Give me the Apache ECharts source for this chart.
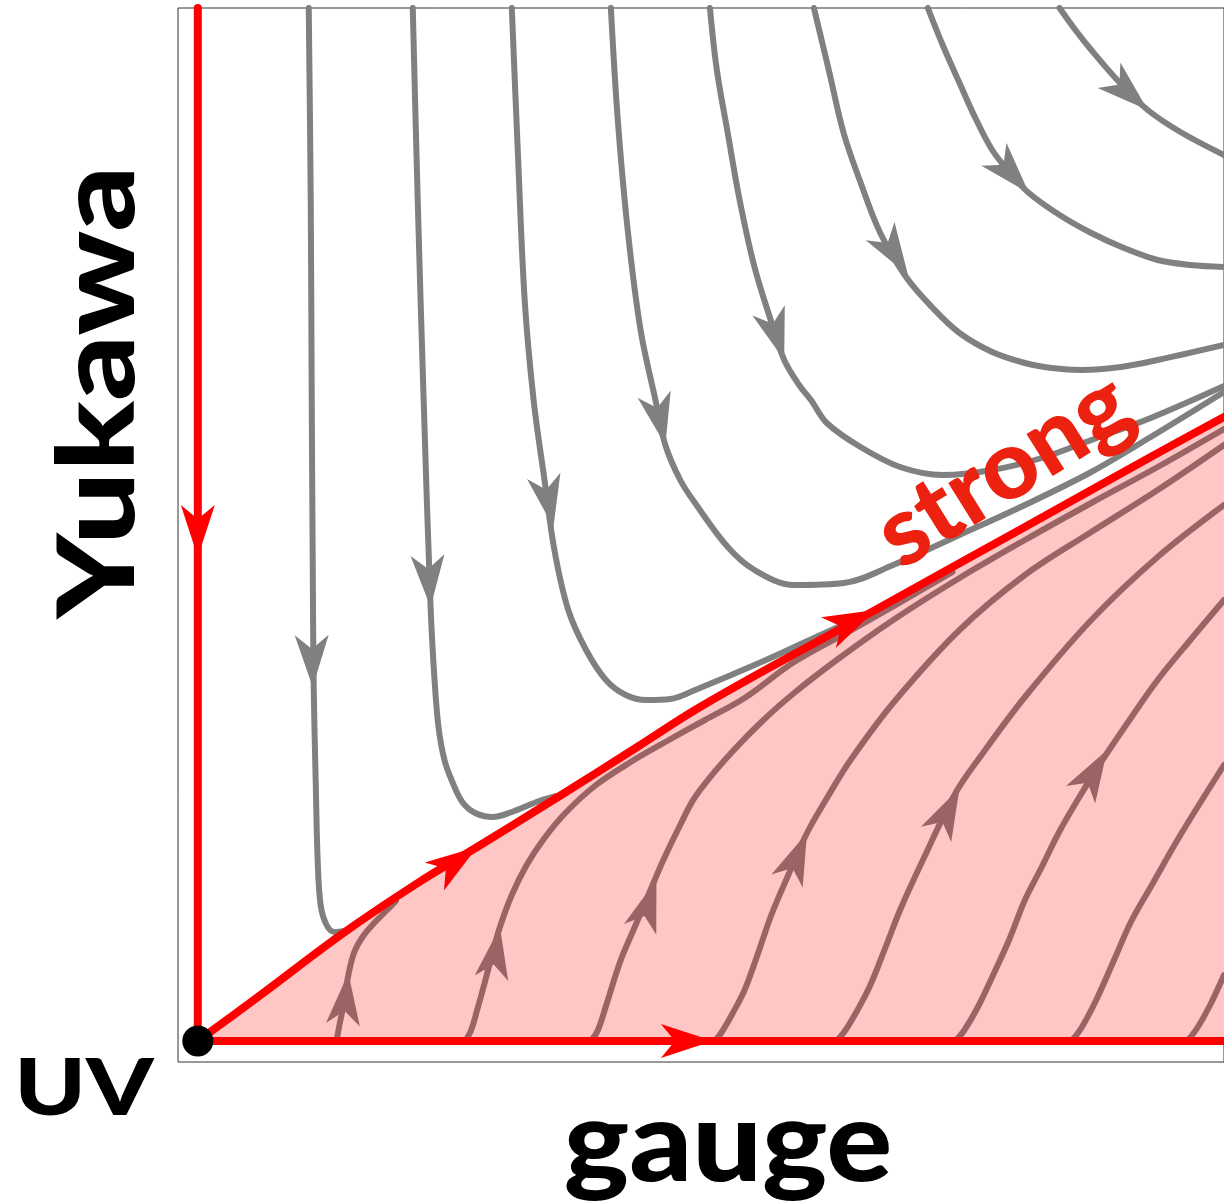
<!DOCTYPE html>
<html>
<head>
<meta charset="utf-8">
<script src="https://cdn.jsdelivr.net/npm/echarts@6/dist/echarts.min.js"></script>
<style>
  html, body { margin: 0; padding: 0; background: #fff; }
  #chart { width: 1224px; height: 1204px; }
</style>
</head>
<body>
<div id="chart"></div>
<script>
// flow diagram, coordinates in plot units [gauge, yukawa]
var separatrix = [[2.0,2.1],[8.2,6.6],[16.7,12.9],[24.2,17.9],[30.2,21.5],[38.2,26.4],[46.2,31.4],[52.2,35.2],[60.2,39.7],[70.4,45.2],[78.2,49.5],[85.5,53.5],[92.2,57.2],[98.2,60.5],[105.6,64.5]];
var yukawaAxisFlow = [[2.0,2.1],[2.0,105.4]];
var gaugeAxisFlow = [[2.0,2.1],[105.6,2.1]];
var fixedPoint = [[2.0,2.1]];

// flows above the separatrix (into it)
var g1 = [[13.2,105.4],[13.4,86.2],[13.5,66.2],[13.6,50.2],[13.7,37.5],[13.9,28.2],[14.1,20.2],[14.4,15.7],[15.0,13.7],[15.8,13.0],[16.8,13.1]];
var g2 = [[23.7,105.4],[24.2,86.2],[24.8,66.2],[25.5,45.5],[25.9,38.2],[26.3,33.5],[26.9,30.2],[27.7,28.0],[28.7,26.0],[30.0,24.9],[31.8,24.5],[33.7,25.0],[36.2,26.0],[38.2,26.6]];
var g3 = [[33.7,105.4],[34.3,91.2],[35.0,76.2],[35.9,66.2],[37.0,58.2],[38.0,51.2],[39.4,45.2],[41.2,41.2],[43.2,38.2],[45.2,36.7],[47.3,36.2],[49.7,36.3],[52.2,37.2],[58.9,40.0],[64.2,42.4],[68.2,44.2]];
var g4 = [[43.7,105.4],[44.4,94.2],[45.4,83.2],[46.7,73.2],[48.2,66.2],[49.2,61.7],[50.7,58.2],[52.2,55.9],[55.5,51.5],[58.2,49.2],[62.2,47.7],[67.2,47.9],[72.2,49.7],[78.9,52.7],[85.5,55.7],[92.2,59.0],[98.2,62.5],[105.6,67.0]];
var g5 = [[53.7,105.4],[54.4,99.2],[55.5,92.9],[56.7,86.2],[58.2,79.5],[60.0,73.7],[61.2,70.2],[62.7,67.7],[63.9,66.2],[65.5,63.9],[68.9,61.5],[72.9,59.5],[77.2,58.7],[82.2,59.2],[87.2,60.4],[92.2,62.2],[98.2,64.4],[105.6,67.6]];
var g6 = [[64.2,105.4],[65.7,99.2],[67.2,92.9],[69.0,87.7],[70.9,82.9],[73.5,78.5],[76.2,75.4],[78.9,72.9],[82.2,71.0],[85.5,69.9],[88.2,69.4],[91.2,69.2],[95.2,69.5],[98.9,70.2],[105.6,71.7]];
var g7 = [[75.7,105.4],[77.2,101.7],[78.9,97.9],[80.5,94.4],[82.2,91.2],[84.0,88.9],[85.9,86.9],[89.0,84.7],[92.2,82.9],[95.5,81.4],[98.9,80.2],[102.2,79.7],[105.6,79.5]];
var g8 = [[89.0,105.4],[90.6,103.2],[92.2,101.2],[95.0,98.0],[97.9,95.2],[101.2,93.0],[105.6,90.7]];

// flows below the separatrix (shaded region)
var b1 = [[16.0,2.1],[16.3,3.7],[16.7,5.7],[17.2,8.7],[17.8,11.0],[18.7,12.6],[19.8,13.9],[21.0,15.1],[22.0,16.1]];
var b2 = [[29.0,2.1],[29.6,3.2],[30.2,5.2],[30.9,7.7],[31.7,10.7],[32.5,13.5],[33.7,16.7],[35.2,19.7],[37.0,22.4],[39.2,25.0],[42.2,27.7],[45.7,30.0],[49.2,32.0],[53.2,34.2],[57.2,36.4],[62.2,40.0],[68.2,43.3],[78.2,49.0]];
var b3 = [[41.7,2.1],[42.4,3.2],[43.3,5.9],[44.7,10.2],[46.2,13.7],[47.7,17.2],[49.0,20.2],[50.7,23.7],[52.2,26.5],[55.2,30.2],[58.9,34.0],[62.2,36.9],[66.5,40.2],[72.2,44.2],[78.9,48.4],[85.5,52.2],[92.2,55.9],[98.9,59.5],[105.6,63.3]];
var b4 = [[54.2,2.1],[54.9,3.0],[55.9,4.7],[57.2,7.2],[58.5,10.7],[59.9,14.7],[61.7,18.9],[63.5,22.9],[65.7,26.7],[67.9,30.2],[72.2,35.9],[78.9,43.2],[85.5,48.7],[92.2,53.0],[98.9,57.2],[105.6,61.7]];
var b5 = [[66.5,2.1],[67.4,3.2],[68.6,5.2],[69.9,7.7],[71.4,11.4],[72.9,15.2],[75.2,20.2],[78.5,26.9],[80.9,30.4],[85.5,36.5],[92.2,44.2],[98.9,50.5],[105.6,55.7]];
var b6 = [[78.5,2.1],[79.4,3.2],[80.7,5.4],[82.2,8.5],[83.9,12.2],[85.5,16.2],[87.2,19.5],[88.9,22.9],[91.0,26.5],[93.2,30.0],[96.2,34.4],[98.9,38.2],[102.2,42.2],[105.6,46.2]];
var b7 = [[90.2,2.1],[91.2,3.4],[92.7,6.2],[94.5,10.2],[96.2,14.0],[98.2,17.5],[101.2,22.7],[105.6,29.7]];
var b8 = [[101.9,2.1],[102.9,3.4],[104.2,5.7],[105.6,8.7]];

// arrow heads: [tipX, tipY, backX, backY]
var grayArrows = [[13.6,37.5,13.5,42.5],[25.5,45.5,25.2,50.5],[37.9,53.5,37.0,58.2],[49.2,61.7,48.2,66.2],[61.2,70.2,59.8,74.6],[73.7,78.7,71.2,82.6],[85.9,86.9,82.7,90.4],[97.9,95.2,94.3,98.4]];
var brownArrows = [[17.2,8.9,16.7,4.2],[32.5,13.5,31.7,8.7],[48.3,18.2,46.8,13.7],[63.5,22.9,61.4,17.9],[78.9,27.4,76.4,22.5],[93.8,31.2,91.4,27.2]];
var redArrows = [[2.0,50.5,2.0,55.2],[54.0,2.1,49.0,2.1],[30.2,21.5,26.1,18.7],[70.4,45.2,66.0,43.1]];

var GRAY = '#808080', BROWN = '#9b6464', RED = '#ff0000', PINK = '#ffc6c6';

function flow(data, color, width, z) {
    return {
        type: 'line', data: data, smooth: 0.35, symbol: 'none', showSymbol: false,
        lineStyle: { color: color, width: width, cap: 'round', join: 'round' }, z: z, silent: true
    };
}

function arrowHeads(data, color, z) {
    return {
        type: 'custom', data: data, z: z, silent: true, clip: false,
        encode: { x: [0, 2], y: [1, 3] },
        renderItem: function (params, api) {
            var tip = api.coord([api.value(0), api.value(1)]);
            var back = api.coord([api.value(2), api.value(3)]);
            var dx = tip[0] - back[0], dy = tip[1] - back[1];
            var len = Math.sqrt(dx * dx + dy * dy);
            var ux = dx / len, uy = dy / len, nx = -uy, ny = ux;
            var L = 52, W = 17, N = 14;
            return {
                type: 'polygon',
                shape: { points: [
                    tip,
                    [tip[0] - L * ux + W * nx, tip[1] - L * uy + W * ny],
                    [tip[0] - (L - N) * ux, tip[1] - (L - N) * uy],
                    [tip[0] - L * ux - W * nx, tip[1] - L * uy - W * ny]
                ] },
                style: { fill: color }
            };
        }
    };
}

var chart = echarts.init(document.getElementById('chart'), null, { renderer: 'canvas' });

var series = [
    {
        type: 'line', data: separatrix, smooth: 0.35, symbol: 'none',
        lineStyle: { width: 0 }, areaStyle: { color: PINK, opacity: 1, origin: 2.1 }, z: 1, silent: true
    }
];
[b1, b2, b3, b4, b5, b6, b7, b8].forEach(function (d) { series.push(flow(d, BROWN, 6, 2)); });
[g1, g2, g3, g4, g5, g6, g7, g8].forEach(function (d) { series.push(flow(d, GRAY, 6, 2)); });
series.push(flow(separatrix, RED, 8, 3));
series.push(flow(yukawaAxisFlow, RED, 8, 3));
series.push(flow(gaugeAxisFlow, RED, 8, 3));
series.push(arrowHeads(grayArrows, GRAY, 4));
series.push(arrowHeads(brownArrows, BROWN, 4));
series.push(arrowHeads(redArrows, RED, 5));
series.push({
    type: 'scatter', data: fixedPoint, symbol: 'circle', symbolSize: 31,
    itemStyle: { color: '#000', opacity: 1 }, z: 6, silent: true
});

chart.setOption({
    animation: false,
    backgroundColor: '#fff',
    grid: {
        left: 178, top: 8, width: 1056, height: 1054,
        show: true, borderColor: '#333', borderWidth: 1, backgroundColor: '#fff'
    },
    xAxis: {
        type: 'value', min: 0, max: 105.6,
        axisLine: { show: false }, axisTick: { show: false },
        axisLabel: { show: false }, splitLine: { show: false }
    },
    yAxis: {
        type: 'value', min: 0, max: 105.4,
        axisLine: { show: false }, axisTick: { show: false },
        axisLabel: { show: false }, splitLine: { show: false }
    },
    graphic: [
        { type: 'text', x: 100, y: 392, rotation: Math.PI / 2, scaleX: 1.22, z: 100,
          style: { text: 'Yukawa', font: '900 106px Lato', fill: '#000', align: 'center', verticalAlign: 'middle' } },
        { type: 'text', x: 84, y: 1090, scaleX: 1.22, z: 100,
          style: { text: 'UV', font: '900 79px Lato', fill: '#000', align: 'center', verticalAlign: 'middle' } },
        { type: 'text', x: 728, y: 1145, scaleX: 1.1, z: 100,
          style: { text: 'gauge', font: '900 112px Lato', fill: '#000', align: 'center', verticalAlign: 'middle' } },
        { type: 'text', x: 1004, y: 470, rotation: 32 * Math.PI / 180, scaleX: 1.02, z: 100,
          style: { text: 'strong', font: '900 96px Lato', fill: '#ec2110', align: 'center', verticalAlign: 'middle' } }
    ],
    series: series
});
</script>
</body>
</html>
